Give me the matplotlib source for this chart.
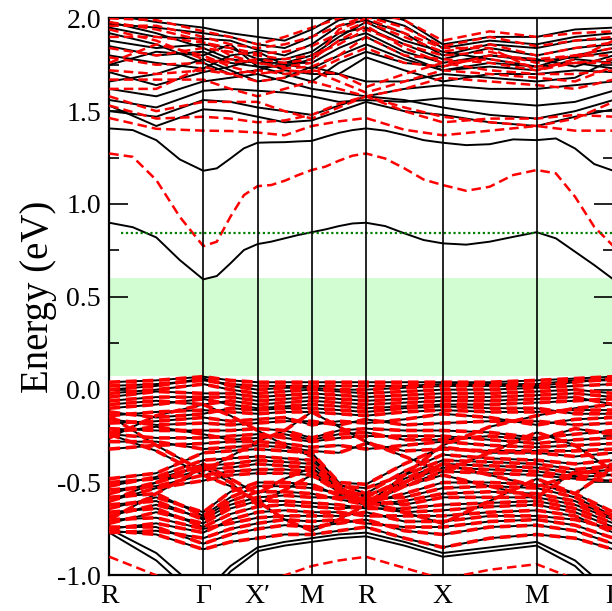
import numpy as np
import matplotlib
matplotlib.use("Agg")
import matplotlib.pyplot as plt
from matplotlib.ticker import MultipleLocator, FormatStrFormatter

plt.rcParams['font.family'] = ['Liberation Serif', 'DejaVu Serif']

# path through the zone
k_labels = ['R', 'Γ', 'X′', 'M', 'R', 'X', 'M', 'Γ']
k_nodes = [0.0, 0.866, 1.366, 1.866, 2.366, 3.073, 3.939, 4.646]

# lowest conduction bands, sampled at quarter points of each segment
cb1_black = [0.899, 0.875, 0.820, 0.698, 0.594, 0.612, 0.680, 0.752, 0.784, 0.797, 0.815, 0.833,
             0.848, 0.863, 0.881, 0.895, 0.899, 0.881, 0.842, 0.806, 0.788, 0.781, 0.797, 0.823,
             0.848, 0.815, 0.743, 0.671, 0.594]
cb1_red = [1.272, 1.254, 1.129, 0.931, 0.773, 0.797, 0.931, 1.048, 1.096, 1.102, 1.125, 1.156,
           1.183, 1.201, 1.233, 1.260, 1.272, 1.245, 1.192, 1.132, 1.102, 1.071, 1.093, 1.156,
           1.183, 1.165, 1.039, 0.877, 0.773]
cb2_black = [1.407, 1.398, 1.344, 1.240, 1.179, 1.192, 1.245, 1.300, 1.330, 1.332, 1.333, 1.337,
             1.340, 1.362, 1.383, 1.398, 1.407, 1.395, 1.371, 1.344, 1.330, 1.317, 1.322, 1.348,
             1.344, 1.353, 1.299, 1.215, 1.179]

# higher conduction bands, sampled at nodes and segment midpoints
cb_black = [
    [1.53, 1.42, 1.51, 1.50, 1.47, 1.44, 1.45, 1.50, 1.55, 1.50, 1.48, 1.44, 1.42, 1.47, 1.51],
    [1.50, 1.47, 1.56, 1.55, 1.52, 1.50, 1.48, 1.53, 1.58, 1.56, 1.52, 1.48, 1.46, 1.50, 1.56],
    [1.56, 1.52, 1.61, 1.62, 1.61, 1.60, 1.58, 1.55, 1.56, 1.55, 1.57, 1.55, 1.53, 1.55, 1.61],
    [1.62, 1.58, 1.66, 1.68, 1.70, 1.66, 1.62, 1.60, 1.58, 1.62, 1.64, 1.62, 1.62, 1.64, 1.66],
    [1.66, 1.70, 1.78, 1.72, 1.66, 1.68, 1.74, 1.70, 1.66, 1.66, 1.70, 1.68, 1.66, 1.68, 1.78],
    [1.71, 1.64, 1.71, 1.74, 1.78, 1.72, 1.70, 1.70, 1.79, 1.72, 1.66, 1.70, 1.70, 1.72, 1.71],
    [1.75, 1.82, 1.80, 1.86, 1.74, 1.70, 1.66, 1.76, 1.82, 1.76, 1.74, 1.80, 1.78, 1.74, 1.80],
    [1.80, 1.76, 1.73, 1.80, 1.82, 1.75, 1.73, 1.80, 1.86, 1.78, 1.72, 1.76, 1.74, 1.76, 1.73],
    [1.85, 1.80, 1.82, 1.76, 1.74, 1.74, 1.78, 1.88, 1.92, 1.82, 1.76, 1.80, 1.77, 1.79, 1.82],
    [1.88, 1.84, 1.86, 1.84, 1.78, 1.78, 1.82, 1.92, 1.95, 1.86, 1.78, 1.84, 1.80, 1.84, 1.86],
    [1.92, 1.86, 1.76, 1.70, 1.72, 1.76, 1.76, 1.84, 1.90, 1.80, 1.72, 1.74, 1.72, 1.78, 1.76],
    [1.95, 1.90, 1.89, 1.88, 1.83, 1.80, 1.86, 1.96, 1.99, 1.92, 1.80, 1.86, 1.84, 1.88, 1.89],
    [1.97, 1.95, 1.92, 1.90, 1.86, 1.84, 1.90, 1.99, 2.02, 1.96, 1.84, 1.88, 1.86, 1.90, 1.92],
    [1.98, 1.92, 1.84, 1.78, 1.76, 1.76, 1.80, 1.90, 1.98, 1.88, 1.82, 1.78, 1.74, 1.80, 1.84],
    [2.02, 1.98, 1.95, 1.92, 1.90, 1.88, 1.94, 2.02, 2.05, 1.99, 1.86, 1.90, 1.90, 1.94, 1.95],
]
cb_red = [
    [1.463, 1.405, 1.395, 1.393, 1.385, 1.370, 1.420, 1.445, 1.463, 1.400, 1.370, 1.395, 1.420, 1.395, 1.395],
    [1.53, 1.46, 1.47, 1.46, 1.44, 1.45, 1.48, 1.54, 1.58, 1.50, 1.44, 1.46, 1.46, 1.48, 1.47],
    [1.58, 1.50, 1.55, 1.55, 1.55, 1.50, 1.46, 1.52, 1.58, 1.52, 1.47, 1.44, 1.42, 1.46, 1.55],
    [1.62, 1.62, 1.74, 1.70, 1.66, 1.68, 1.72, 1.66, 1.60, 1.66, 1.72, 1.70, 1.68, 1.66, 1.74],
    [1.67, 1.67, 1.67, 1.62, 1.58, 1.62, 1.66, 1.62, 1.58, 1.62, 1.68, 1.66, 1.64, 1.62, 1.67],
    [1.72, 1.70, 1.72, 1.70, 1.72, 1.70, 1.72, 1.70, 1.63, 1.70, 1.76, 1.72, 1.70, 1.70, 1.72],
    [1.76, 1.86, 1.80, 1.74, 1.70, 1.72, 1.71, 1.78, 1.84, 1.76, 1.74, 1.80, 1.78, 1.80, 1.80],
    [1.79, 1.75, 1.76, 1.78, 1.76, 1.73, 1.74, 1.80, 1.90, 1.80, 1.78, 1.76, 1.72, 1.76, 1.76],
    [1.84, 1.80, 1.84, 1.82, 1.80, 1.78, 1.80, 1.86, 1.94, 1.86, 1.80, 1.82, 1.76, 1.80, 1.84],
    [1.90, 1.90, 1.87, 1.84, 1.81, 1.82, 1.85, 1.92, 1.98, 1.90, 1.82, 1.86, 1.80, 1.84, 1.87],
    [1.94, 1.88, 1.78, 1.76, 1.78, 1.76, 1.78, 1.88, 1.96, 1.84, 1.76, 1.78, 1.74, 1.76, 1.78],
    [1.96, 1.96, 1.90, 1.86, 1.84, 1.86, 1.90, 1.96, 2.01, 1.95, 1.85, 1.90, 1.85, 1.88, 1.90],
    [1.98, 1.94, 1.88, 1.80, 1.76, 1.74, 1.76, 1.94, 2.00, 1.92, 1.84, 1.84, 1.72, 1.78, 1.88],
    [2.00, 1.99, 1.93, 1.90, 1.86, 1.90, 1.95, 2.00, 2.04, 1.99, 1.88, 1.93, 1.90, 1.92, 1.93],
]

# valence bands (both calculations agree here)
vb = [
    [0.04, 0.05, 0.07, 0.05, 0.04, 0.04, 0.04, 0.04, 0.04, 0.04, 0.04, 0.04, 0.05, 0.06, 0.07],
    [0.02, 0.03, 0.05, 0.03, 0.02, 0.02, 0.02, 0.02, 0.02, 0.02, 0.03, 0.03, 0.03, 0.05, 0.05],
    [0.00, 0.02, 0.06, 0.02, 0.00, 0.01, 0.01, 0.00, 0.00, 0.01, 0.02, 0.02, 0.02, 0.04, 0.06],
    [-0.02, 0.00, 0.03, 0.00, -0.02, -0.01, 0.00, -0.01, -0.02, -0.01, 0.00, 0.00, 0.01, 0.02, 0.03],
    [-0.04, -0.01, -0.02, -0.02, -0.04, -0.03, -0.02, -0.03, -0.04, -0.03, -0.02, -0.02, -0.01, 0.00, -0.02],
    [-0.06, -0.04, -0.04, -0.04, -0.06, -0.05, -0.04, -0.05, -0.06, -0.05, -0.04, -0.04, -0.03, -0.02, -0.04],
    [-0.08, -0.06, -0.08, -0.06, -0.08, -0.07, -0.06, -0.07, -0.08, -0.07, -0.06, -0.06, -0.05, -0.04, -0.08],
    [-0.10, -0.08, -0.05, -0.08, -0.10, -0.09, -0.08, -0.09, -0.10, -0.09, -0.08, -0.08, -0.07, -0.06, -0.05],
    [-0.12, -0.15, -0.13, -0.10, -0.11, -0.10, -0.10, -0.11, -0.12, -0.10, -0.09, -0.10, -0.10, -0.13, -0.13],
    [-0.14, -0.12, -0.11, -0.12, -0.13, -0.12, -0.12, -0.13, -0.14, -0.12, -0.11, -0.12, -0.12, -0.11, -0.11],
    [-0.16, -0.19, -0.18, -0.19, -0.18, -0.17, -0.17, -0.19, -0.16, -0.19, -0.18, -0.17, -0.17, -0.19, -0.18],
    [-0.18, -0.17, -0.15, -0.17, -0.16, -0.15, -0.19, -0.17, -0.18, -0.16, -0.13, -0.15, -0.19, -0.16, -0.15],
    [-0.21, -0.22, -0.22, -0.22, -0.21, -0.22, -0.26, -0.22, -0.21, -0.22, -0.22, -0.23, -0.26, -0.24, -0.22],
    [-0.23, -0.20, -0.24, -0.27, -0.26, -0.24, -0.27, -0.24, -0.23, -0.27, -0.27, -0.25, -0.27, -0.21, -0.24],
    [-0.24, -0.26, -0.26, -0.25, -0.24, -0.26, -0.28, -0.26, -0.25, -0.25, -0.25, -0.27, -0.29, -0.27, -0.26],
    [-0.28, -0.28, -0.32, -0.31, -0.30, -0.31, -0.33, -0.34, -0.29, -0.33, -0.32, -0.33, -0.33, -0.33, -0.32],
    [-0.32, -0.30, -0.29, -0.28, -0.28, -0.29, -0.31, -0.30, -0.32, -0.30, -0.28, -0.30, -0.31, -0.30, -0.29],
    [-0.48, -0.45, -0.34, -0.33, -0.32, -0.33, -0.34, -0.50, -0.51, -0.40, -0.31, -0.34, -0.34, -0.36, -0.34],
    [-0.50, -0.48, -0.41, -0.40, -0.38, -0.39, -0.40, -0.52, -0.53, -0.46, -0.38, -0.39, -0.40, -0.43, -0.41],
    [-0.52, -0.47, -0.38, -0.37, -0.36, -0.37, -0.38, -0.51, -0.56, -0.44, -0.35, -0.37, -0.38, -0.40, -0.38],
    [-0.54, -0.52, -0.46, -0.44, -0.43, -0.43, -0.44, -0.54, -0.57, -0.50, -0.42, -0.43, -0.44, -0.47, -0.46],
    [-0.56, -0.50, -0.43, -0.42, -0.40, -0.41, -0.42, -0.53, -0.58, -0.48, -0.40, -0.41, -0.42, -0.45, -0.43],
    [-0.58, -0.56, -0.68, -0.58, -0.52, -0.52, -0.53, -0.56, -0.59, -0.58, -0.53, -0.52, -0.53, -0.58, -0.68],
    [-0.60, -0.53, -0.49, -0.46, -0.45, -0.45, -0.46, -0.55, -0.60, -0.52, -0.44, -0.45, -0.46, -0.48, -0.49],
    [-0.62, -0.60, -0.70, -0.62, -0.58, -0.57, -0.58, -0.58, -0.60, -0.62, -0.58, -0.58, -0.58, -0.62, -0.70],
    [-0.64, -0.58, -0.66, -0.55, -0.50, -0.50, -0.51, -0.57, -0.61, -0.56, -0.50, -0.50, -0.51, -0.56, -0.66],
    [-0.66, -0.64, -0.74, -0.67, -0.63, -0.62, -0.63, -0.64, -0.63, -0.66, -0.65, -0.63, -0.62, -0.66, -0.74],
    [-0.68, -0.62, -0.69, -0.60, -0.55, -0.55, -0.56, -0.59, -0.62, -0.60, -0.56, -0.55, -0.56, -0.60, -0.69],
    [-0.70, -0.69, -0.75, -0.72, -0.69, -0.68, -0.68, -0.68, -0.66, -0.71, -0.71, -0.68, -0.68, -0.70, -0.75],
    [-0.72, -0.66, -0.72, -0.64, -0.60, -0.60, -0.61, -0.62, -0.64, -0.64, -0.62, -0.61, -0.60, -0.64, -0.72],
    [-0.74, -0.74, -0.83, -0.78, -0.75, -0.73, -0.74, -0.72, -0.70, -0.76, -0.78, -0.74, -0.73, -0.76, -0.83],
    [-0.75, -0.72, -0.77, -0.70, -0.66, -0.65, -0.66, -0.66, -0.68, -0.68, -0.68, -0.66, -0.65, -0.68, -0.77],
    [-0.76, -0.78, -0.86, -0.82, -0.80, -0.78, -0.78, -0.76, -0.74, -0.80, -0.85, -0.80, -0.78, -0.80, -0.86],
    [-0.77, -0.76, -0.80, -0.75, -0.72, -0.70, -0.71, -0.70, -0.72, -0.74, -0.74, -0.71, -0.70, -0.73, -0.80],
    # bands crossing the others
    [-0.26, -0.14, -0.08, -0.14, -0.22, -0.30, -0.36, -0.52, -0.62, -0.46, -0.30, -0.20, -0.14, -0.10, -0.08],
    [-0.60, -0.50, -0.40, -0.48, -0.56, -0.48, -0.42, -0.54, -0.62, -0.50, -0.40, -0.46, -0.52, -0.46, -0.40],
    [-0.14, -0.30, -0.44, -0.36, -0.28, -0.22, -0.12, -0.20, -0.28, -0.36, -0.44, -0.34, -0.23, -0.30, -0.44],
    [-0.70, -0.56, -0.42, -0.50, -0.62, -0.54, -0.46, -0.54, -0.60, -0.66, -0.72, -0.60, -0.48, -0.56, -0.42],
    [-0.24, -0.33, -0.46, -0.52, -0.60, -0.70, -0.76, -0.70, -0.62, -0.52, -0.46, -0.52, -0.58, -0.44, -0.46],
]
# lowest bands at the bottom of the window
vb_low_black = [
    [-0.75, -0.88, -1.10, -0.95, -0.85, -0.82, -0.80, -0.78, -0.77, -0.82, -0.88, -0.85, -0.82, -0.92, -1.10],
    [-0.77, -0.92, -1.15, -0.98, -0.87, -0.84, -0.82, -0.80, -0.79, -0.84, -0.90, -0.87, -0.84, -0.95, -1.15],
]
vb_low_red = [-0.90, -1.00, -1.15, -1.12, -1.05, -1.00, -0.95, -0.92, -0.90, -0.96, -1.02, -0.97, -0.94, -1.02, -1.15]

gap_lo, gap_hi = 0.073, 0.60
e_level = 0.845


def kgrid(n):
    pts = []
    for a, b in zip(k_nodes[:-1], k_nodes[1:]):
        pts += list(np.linspace(a, b, n, endpoint=False))
    pts.append(k_nodes[-1])
    return np.array(pts)


k_fine = kgrid(4)
k_coarse = kgrid(2)

fig = plt.figure(figsize=(6.12, 6.11), dpi=100)
ax = fig.add_axes([0.1786, 0.0584, 0.8237, 0.9116])

ax.axhspan(gap_lo, gap_hi, color='#d2fcd2', lw=0, zorder=0)

blk = dict(color='black', lw=1.4, zorder=2)
red = dict(color='red', lw=1.8, dashes=(3.8, 2.0), zorder=3)
red_vb = dict(color='red', lw=2.6, dashes=(3.0, 1.6), zorder=3)

for band in [cb1_black, cb2_black]:
    ax.plot(k_fine, band, **blk)
for band in cb_black + vb + vb_low_black:
    ax.plot(k_coarse, band, **blk)
ax.plot(k_fine, cb1_red, **red)
for band in cb_red + [vb_low_red]:
    ax.plot(k_coarse, band, **red)
for band in vb:
    ax.plot(k_coarse, band, **red_vb)

ax.hlines(e_level, 0.105, k_nodes[-1], colors='green', linestyles=(0, (1, 1.2)), lw=1.6, zorder=4)

for k in k_nodes[1:-1]:
    ax.axvline(k, color='black', lw=1.2, zorder=5)

ax.set_xlim(k_nodes[0], k_nodes[-1])
ax.set_ylim(-1.0, 2.0)
ax.set_xticks(k_nodes)
ax.set_xticklabels(k_labels)
ax.yaxis.set_major_locator(MultipleLocator(0.5))
ax.yaxis.set_minor_locator(MultipleLocator(0.25))
ax.yaxis.set_major_formatter(FormatStrFormatter('%.1f'))
ax.tick_params(axis='y', which='major', direction='in', length=14, width=1.2,
               left=True, right=True, labelsize=20, pad=6)
ax.tick_params(axis='y', which='minor', direction='in', length=7, width=1.2, left=True, right=True)
ax.tick_params(axis='x', length=0, labelsize=20, pad=6)
for s in ax.spines.values():
    s.set_linewidth(1.6)

ax.set_ylabel('Energy (eV)', fontsize=28, labelpad=0)

fig.savefig('out.png', dpi=100)
